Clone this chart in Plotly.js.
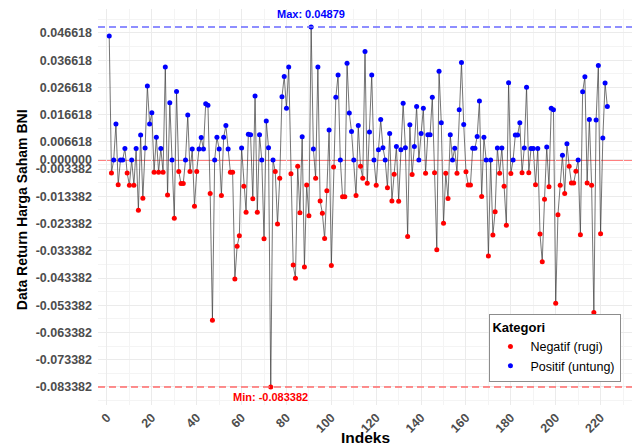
<!DOCTYPE html>
<html>
<head>
<meta charset="utf-8">
<script src="https://cdn.plot.ly/plotly-3.0.1.min.js"></script>
<style>html,body{margin:0;padding:0;background:#fff;}#chart{width:636px;height:448px;}</style>
</head>
<body>
<div id="chart"></div>
<script>
// Return values (index 1..223)
const returnValues = [
 0.0455,-0.0048,0.0,0.0132,-0.0091,0.0,0.0,0.0042,-0.0048,-0.0093,
 0.0,-0.0093,0.0042,-0.0185,0.0091,-0.0141,0.0044,0.0271,0.0132,0.0173,
 -0.0045,0.0083,-0.0045,0.0042,-0.0045,0.0341,-0.0129,0.021,0.0,-0.0214,
 0.0251,-0.0043,-0.0087,-0.0087,0.0,0.0165,-0.0043,0.004,-0.017,-0.0043,
 0.004,0.0082,0.004,0.0206,0.0201,-0.0123,-0.0589,0.0,0.0083,0.004,
 -0.0131,0.0083,0.0126,0.004,-0.0045,-0.0045,-0.0437,-0.0317,-0.0279,0.0044,
 -0.0097,-0.0192,0.0094,0.0092,-0.0143,0.0235,-0.0192,0.0092,0.0,-0.029,
 0.0143,0.0045,-0.083382,0.0,-0.0043,-0.0235,-0.0067,0.0232,0.0306,0.019,
 0.0341,-0.0051,-0.0386,-0.0435,-0.0023,-0.0194,0.0085,-0.0393,-0.0092,-0.0205,
 0.04879,0.004,-0.0067,0.0341,-0.0151,-0.0196,-0.0289,-0.0113,0.011,-0.0388,
 -0.0026,0.023,0.0312,0.0,-0.0135,-0.0135,0.0355,0.0172,0.0104,0.0,
 -0.0131,0.0126,-0.0023,-0.0067,0.0398,-0.0086,0.0102,0.0312,0.0,-0.0093,
 0.0037,0.0148,0.0045,0.0,-0.0102,0.0097,-0.0151,-0.0053,0.0049,-0.0152,
 0.0037,0.0208,0.0045,-0.0281,0.0129,-0.0054,0.0049,0.0196,0.0,0.0097,
 0.019,-0.0049,0.0092,0.0092,0.023,-0.0047,-0.033,0.0325,0.0136,-0.0233,
 -0.0049,-0.0142,0.0092,0.0,0.0043,-0.0049,0.0184,0.0358,0.013,-0.0044,
 -0.0092,-0.0092,0.0043,0.0043,0.0086,0.0216,-0.0134,0.0083,0.0,-0.0353,
 0.0,-0.0276,-0.019,0.0044,-0.0049,0.0044,-0.0097,-0.024,0.0283,-0.005,
 0.0,0.0091,0.0091,0.0136,-0.0047,0.0044,0.0267,-0.0047,0.0042,0.0042,
 -0.0091,0.0042,-0.0272,-0.0374,-0.0145,0.0047,-0.0099,0.019,0.0184,-0.0526,
 -0.0201,-0.0093,0.0017,-0.0123,0.0059,-0.0023,-0.0085,-0.0085,-0.0042,0.0,
 -0.0275,0.025,0.0305,-0.0085,0.0148,-0.0093,-0.056,0.0146,0.0347,-0.0271,
 0.008,0.0282,0.0196
];
const indeks = returnValues.map((v, i) => i + 1);

const categories = ["Negatif (rugi)", "Positif (untung)"];
const xTickVals = [0, 20, 40, 60, 80, 100, 120, 140, 160, 180, 200, 220];
const yTickVals = [-0.083382,-0.073382,-0.063382,-0.053382,-0.043382,-0.033382,-0.023382,-0.013382,-0.003382,0,0.006618,0.016618,0.026618,0.036618,0.046618];
const yTickLabels = ["-0.083382","-0.073382","-0.063382","-0.053382","-0.043382","-0.033382","-0.023382","-0.013382","-0.003382","0.000000","0.006618","0.016618","0.026618","0.036618","0.046618"];

const maxVal = Math.max(...returnValues);
const minVal = Math.min(...returnValues);
const maxIdx = indeks[returnValues.indexOf(maxVal)];
const minIdx = indeks[returnValues.indexOf(minVal)];

// minor gridlines at midpoints of major breaks (ggplot style)
const yMinor = [yTickVals[0] - 0.005];
for (let i = 0; i < yTickVals.length - 1; i++) yMinor.push((yTickVals[i] + yTickVals[i+1]) / 2);
yMinor.push(yTickVals[yTickVals.length - 1] + 0.005);

const negX = [], negY = [], posX = [], posY = [];
returnValues.forEach((v, i) => {
  if (v < 0) { negX.push(indeks[i]); negY.push(v); }
  else { posX.push(indeks[i]); posY.push(v); }
});

const traces = [
  {x: indeks, y: returnValues, type: 'scatter', mode: 'lines',
   line: {color: '#3a3a3a', width: 0.7}, showlegend: false, hoverinfo: 'skip'},
  {x: negX, y: negY, type: 'scatter', mode: 'markers', name: categories[0],
   marker: {color: '#ff0000', size: 5}},
  {x: posX, y: posY, type: 'scatter', mode: 'markers', name: categories[1],
   marker: {color: '#0000ff', size: 5}}
];

const tickFont = {family: 'Liberation Sans, Arial, sans-serif', size: 12.5, color: '#4d4d4d', weight: 'bold'};

const layout = {
  width: 636, height: 448,
  margin: {l: 98, r: 4, t: 9, b: 43},
  paper_bgcolor: '#ffffff', plot_bgcolor: '#ffffff',
  showlegend: true,
  xaxis: {
    range: [-4, 234], tickmode: 'array', tickvals: xTickVals,
    tickangle: -45, tickfont: tickFont, showline: false, zeroline: false,
    showgrid: true, gridcolor: '#ebebeb', gridwidth: 1, ticks: '',
    minor: {tickmode: 'linear', tick0: 0, dtick: 10, showgrid: true, gridcolor: '#f4f4f4', gridwidth: 1},
    ticklabelstandoff: 2
  },
  yaxis: {
    range: [-0.09, 0.0554], tickmode: 'array', tickvals: yTickVals, ticktext: yTickLabels,
    tickfont: tickFont, showline: false, zeroline: false,
    showgrid: true, gridcolor: '#ebebeb', gridwidth: 1, ticks: '',
    minor: {tickmode: 'array', tickvals: yMinor, showgrid: true, gridcolor: '#f4f4f4', gridwidth: 1},
    ticklabelstandoff: 5
  },
  shapes: [
    {type: 'line', xref: 'paper', x0: 0, x1: 1, yref: 'y', y0: 0, y1: 0,
     line: {color: '#ff0000', width: 1.2}, layer: 'between'},
    {type: 'line', xref: 'paper', x0: 0, x1: 1, yref: 'y', y0: maxVal, y1: maxVal,
     line: {color: '#6a6aff', width: 1.5, dash: '7px,4px'}, layer: 'above'},
    {type: 'line', xref: 'paper', x0: 0, x1: 1, yref: 'y', y0: minVal, y1: minVal,
     line: {color: '#ff6a6a', width: 1.5, dash: '7px,4px'}, layer: 'above'}
  ],
  annotations: [
    {x: maxIdx, y: maxVal, xref: 'x', yref: 'y', text: 'Max: ' + maxVal, showarrow: false,
     yshift: 13, font: {family: 'Liberation Sans, Arial, sans-serif', size: 11, color: '#0000ff', weight: 'bold'}},
    {x: minIdx, y: minVal, xref: 'x', yref: 'y', text: 'Min: ' + minVal, showarrow: false,
     yshift: -10, font: {family: 'Liberation Sans, Arial, sans-serif', size: 11, color: '#ff0000', weight: 'bold'}},
    {x: 0.5, y: -0.0833, xref: 'paper', yref: 'paper', text: 'Indeks', showarrow: false,
     xanchor: 'center', yanchor: 'middle',
     font: {family: 'Liberation Sans, Arial, sans-serif', size: 15.5, color: '#000000', weight: 'bold'}},
    {x: -0.1423, y: 0.492, xref: 'paper', yref: 'paper', text: 'Data Return Harga Saham BNI', showarrow: false,
     textangle: -90, xanchor: 'center', yanchor: 'middle',
     font: {family: 'Liberation Sans, Arial, sans-serif', size: 14, color: '#000000', weight: 'bold'}}
  ],
  legend: {
    x: 0.733, y: 0.058, xanchor: 'left', yanchor: 'bottom',
    bgcolor: '#ffffff', bordercolor: '#8c8c8c', borderwidth: 1,
    font: {family: 'Liberation Sans, Arial, sans-serif', size: 12.5, color: '#000000'},
    title: {text: 'Kategori', font: {family: 'Liberation Sans, Arial, sans-serif', size: 13, color: '#000000', weight: 'bold'}},
    itemwidth: 30, tracegroupgap: 0
  }
};

Plotly.newPlot('chart', traces, layout, {displayModeBar: false, staticPlot: true});
</script>
</body>
</html>
